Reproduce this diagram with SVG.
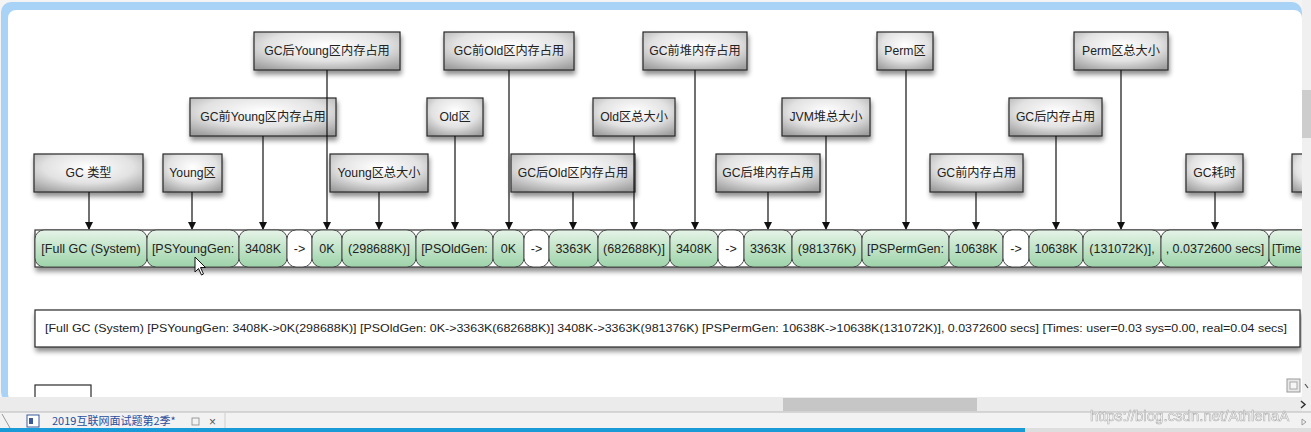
<svg xmlns="http://www.w3.org/2000/svg" width="1311" height="432" viewBox="0 0 1311 432">
<defs>
<style>
.lbl{font-family:"Liberation Sans","Noto Sans CJK SC",sans-serif;font-size:12.2px;fill:#222;text-anchor:middle}
.pt{font-family:"Liberation Sans","Noto Sans CJK SC",sans-serif;font-size:12.5px;fill:#222;text-anchor:middle}
.box{fill:url(#gbox);stroke:#2a2a2a;stroke-width:1.2;filter:url(#sh)}
.pill{fill:url(#ggreen);stroke:#4a4a4a;stroke-width:1}
.pw{fill:#ffffff;stroke:#4a4a4a;stroke-width:1}
.con{stroke:#111;stroke-width:1.2;fill:none;marker-end:url(#arr)}
</style>
<radialGradient id="gbox" cx="50%" cy="35%" r="75%">
<stop offset="0" stop-color="#ffffff"/>
<stop offset="0.55" stop-color="#e2e2e2"/>
<stop offset="1" stop-color="#9e9e9e"/>
</radialGradient>
<linearGradient id="ggreen" x1="0" y1="0" x2="0" y2="1">
<stop offset="0" stop-color="#e6f4e8"/>
<stop offset="1" stop-color="#9dd3a9"/>
</linearGradient>
<filter id="sh" x="-20%" y="-20%" width="140%" height="160%">
<feGaussianBlur in="SourceAlpha" stdDeviation="2.5"/>
<feOffset dx="1" dy="4" result="b"/>
<feComponentTransfer><feFuncA type="linear" slope="0.45"/></feComponentTransfer>
<feMerge><feMergeNode/><feMergeNode in="SourceGraphic"/></feMerge>
</filter>
<marker id="arr" markerWidth="8" markerHeight="10" refX="7" refY="4" orient="auto" markerUnits="userSpaceOnUse" viewBox="0 0 8 8">
<path d="M0,0 L8,4 L0,8 z" fill="#111"/>
</marker>
</defs>

<!-- canvas frame -->
<rect x="0" y="0" width="1311" height="432" fill="#f4f4f4"/>
<rect x="1" y="2" width="1301" height="400" rx="10" fill="#a9d2f7"/>
<rect x="8" y="10" width="1294" height="392" rx="8" fill="#ffffff"/>

<!-- label nodes -->
<g id="n-gc-type"><rect class="box" x="34" y="154" width="109" height="38"/><text class="lbl" x="88.5" y="177">GC 类型</text></g>
<g id="n-young"><rect class="box" x="163" y="154" width="59" height="38"/><text class="lbl" x="192.5" y="177">Young区</text></g>
<g id="n-young-before"><rect class="box" x="190" y="98" width="146" height="38"/><text class="lbl" x="263" y="121">GC前Young区内存占用</text></g>
<g id="n-young-after"><rect class="box" x="254" y="32" width="146" height="38"/><text class="lbl" x="327" y="55">GC后Young区内存占用</text></g>
<g id="n-young-total"><rect class="box" x="330" y="154" width="98" height="38"/><text class="lbl" x="379" y="177">Young区总大小</text></g>
<g id="n-old"><rect class="box" x="427" y="98" width="56" height="38"/><text class="lbl" x="455" y="121">Old区</text></g>
<g id="n-old-before"><rect class="box" x="444" y="32" width="130" height="38"/><text class="lbl" x="509" y="55">GC前Old区内存占用</text></g>
<g id="n-old-after"><rect class="box" x="511" y="154" width="124" height="38"/><text class="lbl" x="573" y="177">GC后Old区内存占用</text></g>
<g id="n-old-total"><rect class="box" x="593" y="98" width="82" height="38"/><text class="lbl" x="634" y="121">Old区总大小</text></g>
<g id="n-heap-before"><rect class="box" x="643" y="32" width="104" height="38"/><text class="lbl" x="695" y="55">GC前堆内存占用</text></g>
<g id="n-heap-after"><rect class="box" x="716" y="154" width="104" height="38"/><text class="lbl" x="768" y="177">GC后堆内存占用</text></g>
<g id="n-heap-total"><rect class="box" x="782" y="98" width="88" height="38"/><text class="lbl" x="826" y="121">JVM堆总大小</text></g>
<g id="n-perm"><rect class="box" x="877" y="32" width="56" height="38"/><text class="lbl" x="905" y="55">Perm区</text></g>
<g id="n-mem-before"><rect class="box" x="930" y="154" width="93" height="38"/><text class="lbl" x="976.5" y="177">GC前内存占用</text></g>
<g id="n-mem-after"><rect class="box" x="1009" y="98" width="93" height="38"/><text class="lbl" x="1055.5" y="121">GC后内存占用</text></g>
<g id="n-perm-total"><rect class="box" x="1074" y="32" width="94" height="38"/><text class="lbl" x="1121" y="55">Perm区总大小</text></g>
<g id="n-gc-time"><rect class="box" x="1186" y="154" width="57" height="38"/><text class="lbl" x="1214.5" y="177">GC耗时</text></g>
<g id="n-cut"><rect class="box" x="1292" y="154" width="40" height="38"/></g>

<!-- connectors -->
<g id="connectors">
<line class="con" x1="89" y1="192" x2="89" y2="229"/>
<line class="con" x1="192" y1="192" x2="192" y2="229"/>
<line class="con" x1="263" y1="136" x2="263" y2="229"/>
<line class="con" x1="327" y1="70" x2="327" y2="229"/>
<line class="con" x1="379" y1="192" x2="379" y2="229"/>
<line class="con" x1="455" y1="136" x2="455" y2="229"/>
<line class="con" x1="509" y1="70" x2="509" y2="229"/>
<line class="con" x1="573" y1="192" x2="573" y2="229"/>
<line class="con" x1="634" y1="136" x2="634" y2="229"/>
<line class="con" x1="695" y1="70" x2="695" y2="229"/>
<line class="con" x1="768" y1="192" x2="768" y2="229"/>
<line class="con" x1="826" y1="136" x2="826" y2="229"/>
<line class="con" x1="906" y1="70" x2="906" y2="229"/>
<line class="con" x1="976" y1="192" x2="976" y2="229"/>
<line class="con" x1="1056" y1="136" x2="1056" y2="229"/>
<line class="con" x1="1121" y1="70" x2="1121" y2="229"/>
<line class="con" x1="1215" y1="192" x2="1215" y2="229"/>
</g>

<!-- green token row -->
<g id="tokens">
<rect x="35" y="230" width="1275" height="37" fill="#ffffff" stroke="#333" stroke-width="1.2" filter="url(#sh)"/>
<g id="t1"><rect class="pill" x="35" y="230" width="112" height="37" rx="9"/><text class="pt" x="91" y="252.5">[Full GC (System)</text></g>
<g id="t2"><rect class="pill" x="147" y="230" width="92" height="37" rx="9"/><text class="pt" x="193" y="252.5">[PSYoungGen:</text></g>
<g id="t3"><rect class="pill" x="239" y="230" width="48" height="37" rx="9"/><text class="pt" x="263" y="252.5">3408K</text></g>
<g id="t4"><rect class="pw" x="287" y="230" width="25" height="37" rx="9"/><text class="pt" x="299.5" y="252.5">-&gt;</text></g>
<g id="t5"><rect class="pill" x="312" y="230" width="30" height="37" rx="9"/><text class="pt" x="327" y="252.5">0K</text></g>
<g id="t6"><rect class="pill" x="342" y="230" width="74" height="37" rx="9"/><text class="pt" x="379" y="252.5">(298688K)]</text></g>
<g id="t7"><rect class="pill" x="416" y="230" width="77" height="37" rx="9"/><text class="pt" x="454.5" y="252.5">[PSOldGen:</text></g>
<g id="t8"><rect class="pill" x="493" y="230" width="31" height="37" rx="9"/><text class="pt" x="508.5" y="252.5">0K</text></g>
<g id="t9"><rect class="pw" x="524" y="230" width="25" height="37" rx="9"/><text class="pt" x="536.5" y="252.5">-&gt;</text></g>
<g id="t10"><rect class="pill" x="549" y="230" width="49" height="37" rx="9"/><text class="pt" x="573.5" y="252.5">3363K</text></g>
<g id="t11"><rect class="pill" x="598" y="230" width="72" height="37" rx="9"/><text class="pt" x="634" y="252.5">(682688K)]</text></g>
<g id="t12"><rect class="pill" x="670" y="230" width="48" height="37" rx="9"/><text class="pt" x="694" y="252.5">3408K</text></g>
<g id="t13"><rect class="pw" x="718" y="230" width="26" height="37" rx="9"/><text class="pt" x="731" y="252.5">-&gt;</text></g>
<g id="t14"><rect class="pill" x="744" y="230" width="48" height="37" rx="9"/><text class="pt" x="768" y="252.5">3363K</text></g>
<g id="t15"><rect class="pill" x="792" y="230" width="70" height="37" rx="9"/><text class="pt" x="827" y="252.5">(981376K)</text></g>
<g id="t16"><rect class="pill" x="862" y="230" width="87" height="37" rx="9"/><text class="pt" x="905.5" y="252.5">[PSPermGen:</text></g>
<g id="t17"><rect class="pill" x="949" y="230" width="54" height="37" rx="9"/><text class="pt" x="976" y="252.5">10638K</text></g>
<g id="t18"><rect class="pw" x="1003" y="230" width="26" height="37" rx="9"/><text class="pt" x="1016" y="252.5">-&gt;</text></g>
<g id="t19"><rect class="pill" x="1029" y="230" width="54" height="37" rx="9"/><text class="pt" x="1056" y="252.5">10638K</text></g>
<g id="t20"><rect class="pill" x="1083" y="230" width="78" height="37" rx="9"/><text class="pt" x="1122" y="252.5">(131072K)],</text></g>
<g id="t21"><rect class="pill" x="1161" y="230" width="108" height="37" rx="9"/><text class="pt" x="1215" y="252.5">, 0.0372600 secs]</text></g>
<g id="t22"><rect class="pill" x="1269" y="230" width="70" height="37" rx="9"/><text class="pt" x="1272" y="252.5" textLength="29" lengthAdjust="spacingAndGlyphs" style="text-anchor:start">[Time</text></g>
</g>

<!-- full log line box -->
<g id="n-log">
<rect x="35" y="310" width="1265" height="37" fill="#ffffff" stroke="#2a2a2a" stroke-width="1.2" filter="url(#sh)"/>
<text x="45" y="332" textLength="1242" lengthAdjust="spacingAndGlyphs" style="font-family:'Liberation Sans',sans-serif;font-size:11.5px;fill:#222">[Full GC (System) [PSYoungGen: 3408K-&gt;0K(298688K)] [PSOldGen: 0K-&gt;3363K(682688K)] 3408K-&gt;3363K(981376K) [PSPermGen: 10638K-&gt;10638K(131072K)], 0.0372600 secs] [Times: user=0.03 sys=0.00, real=0.04 secs]</text>
</g>

<!-- partial box bottom-left -->
<rect x="35" y="385" width="56" height="20" fill="#ffffff" stroke="#2a2a2a" stroke-width="1.2"/>

<!-- mouse cursor -->
<path d="M195,257 L195,272 L198.5,268.5 L201.5,275 L203.5,274 L200.5,267.5 L205.5,267.5 Z" fill="#ffffff" stroke="#111" stroke-width="1"/>

<!-- right vertical scrollbar -->
<rect x="1302" y="0" width="9" height="412" fill="#f0f0f0"/>
<rect x="1302" y="90" width="9" height="48" fill="#cdcdcd"/>
<path d="M1305,384 L1308,388" stroke="#555" stroke-width="1.2"/>

<!-- small icon -->
<rect x="1287" y="379" width="13" height="13" fill="#e8e8e8" stroke="#999" stroke-width="1"/>
<rect x="1290" y="382" width="7" height="7" fill="#f6f6f6" stroke="#999" stroke-width="0.8"/>

<!-- horizontal scrollbar -->
<rect x="0" y="397" width="1302" height="15" fill="#ebebeb"/>
<rect x="783" y="398" width="194" height="13" fill="#c6c6c6"/>
<path d="M1301,401 L1305,404.5 L1301,408" stroke="#333" stroke-width="1.5" fill="none"/>
<line x1="0" y1="412" x2="1311" y2="412" stroke="#b8b8b8" stroke-width="1"/>

<!-- tab bar -->
<rect x="0" y="413" width="1311" height="15" fill="#f2f2f2"/>
<line x1="2" y1="414" x2="10" y2="428" stroke="#999" stroke-width="1"/>
<rect x="27" y="415" width="12" height="12" fill="#ffffff" stroke="#3a5a9a" stroke-width="1"/>
<rect x="29" y="418" width="4" height="6" fill="#3a5a9a"/>
<text x="52" y="425" style="font-family:'Noto Sans CJK SC','Liberation Sans',sans-serif;font-size:11px;fill:#2a4f9e">2019互联网面试题第2季*</text>
<rect x="192" y="418" width="7" height="7" fill="none" stroke="#888" stroke-width="0.8"/>
<text x="209" y="426" style="font-family:'Liberation Sans',sans-serif;font-size:12px;fill:#555">×</text>
<line x1="225" y1="413" x2="225" y2="428" stroke="#cfcfcf" stroke-width="1"/>
<path d="M1302,419 L1306,422 L1302,425 Z" fill="none" stroke="#888" stroke-width="0.8"/>
<rect x="0" y="428" width="1311" height="4" fill="#dedede"/>
<rect x="0" y="428" width="1025" height="4" fill="#1a9bd7"/>

<!-- watermark -->
<text x="1090" y="421" style="font-family:'Liberation Sans',sans-serif;font-size:15px;fill:#ffffff;stroke:#a8a8a8;stroke-width:0.6;opacity:0.9">https://blog.csdn.net/AthlenaA</text>
</svg>
